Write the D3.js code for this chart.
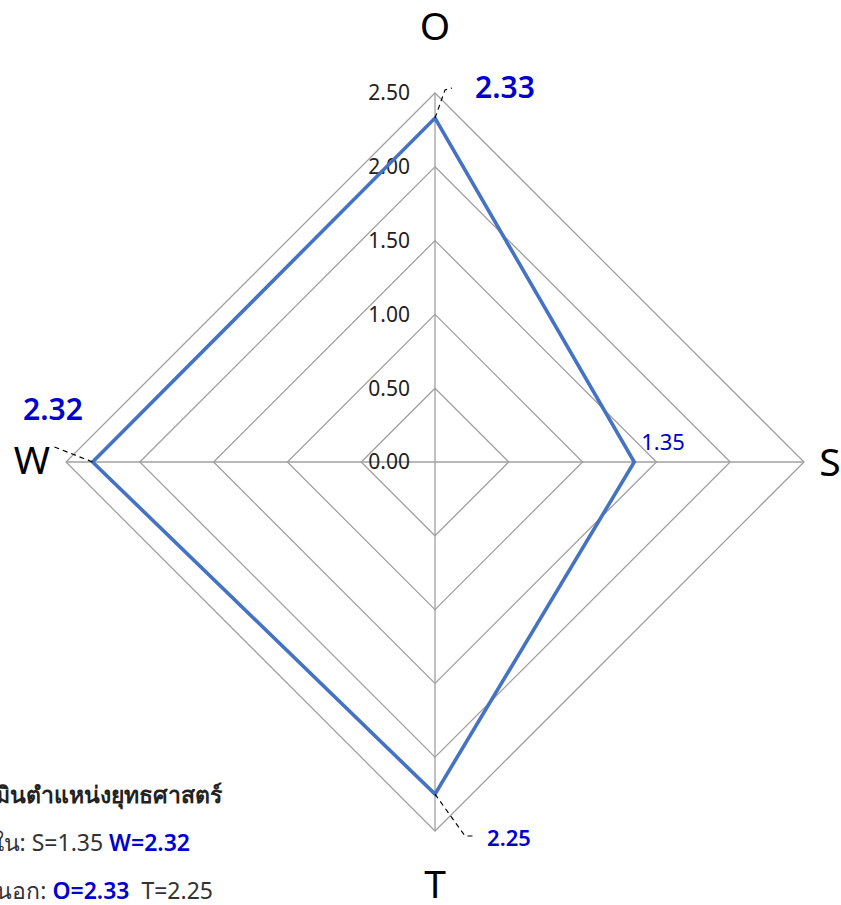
<!DOCTYPE html>
<html><head><meta charset="utf-8">
<script src="https://cdn.jsdelivr.net/npm/d3@7"></script>
<style>body{margin:0;background:#fff}svg{display:block}</style>
</head><body>
<script>
const axes = ["O","S","T","W"];
const values = [2.33, 1.35, 2.25, 2.32];
const ticks = [0, 0.5, 1.0, 1.5, 2.0, 2.5];
const tickLabels = ["0.00","0.50","1.00","1.50","2.00","2.50"];
const legendTitle = "ผลการประเมินตำแหน่งยุทธศาสตร์";
const legendInner = ["ปัจจัยภายใน: ", "S=1.35 ", "W=2.32"];
const legendOuter = ["ปัจจัยภายนอก: ", "O=2.33", "  T=2.25"];

const W = 841, H = 905, cx = 435, cy = 462;
const font = "'Noto Sans', 'DejaVu Sans', sans-serif";
const svg = d3.select("body").append("svg").attr("width", W).attr("height", H);
const r = d3.scaleLinear().domain([0, 2.5]).range([0, 369]);
const ang = d3.scalePoint().domain(axes).range([0, 2*Math.PI*3/4]);
const pt = (a, v) => [cx + r(v)*Math.sin(ang(a)), cy - r(v)*Math.cos(ang(a))];

// grid
ticks.slice(1).forEach(t => {
  svg.append("path").attr("d", d3.line()(axes.map(a => pt(a, t))) + "Z")
    .attr("fill","none").attr("stroke","#a0a0a0").attr("stroke-width",1.3);
});
axes.forEach(a => {
  const [x,y] = pt(a, 2.5);
  svg.append("line").attr("x1",cx).attr("y1",cy).attr("x2",x).attr("y2",y)
    .attr("stroke","#a0a0a0").attr("stroke-width",1.3);
});
// tick labels
ticks.forEach((t,i) => {
  svg.append("text").attr("x", cx - 25).attr("y", cy - r(t)).attr("dy","0.35em")
    .attr("text-anchor","end").attr("font-family",font).attr("font-size",21)
    .attr("fill","#222").text(tickLabels[i]);
});
// data polygon
svg.append("path").attr("d", d3.line()(axes.map((a,i) => pt(a, values[i]))) + "Z")
  .attr("fill","none").attr("stroke","#4472C4").attr("stroke-width",3.6).attr("stroke-linejoin","miter");

// axis labels
const axLab = {O:[435,26], S:[830,462], T:[435,884], W:[32,460]};
axes.forEach(a => {
  svg.append("text").attr("x", axLab[a][0]).attr("y", axLab[a][1]).attr("dy","0.36em")
    .attr("text-anchor","middle").attr("font-family",font).attr("font-size",39)
    .attr("fill","#000").text(a);
});

// value labels with leader lines
const lab = {
  O:{x:505,y:87,size:30,bold:true,lead:[[445,90],[452,88]]},
  S:{x:663,y:442,size:22,bold:false,lead:null},
  T:{x:509,y:838,size:22,bold:true,lead:[[465,836],[475,836]]},
  W:{x:53,y:409,size:30,bold:true,lead:[[52,446]]}
};
axes.forEach((a,i) => {
  const L = lab[a];
  if (L.lead) {
    const p = pt(a, values[i]);
    const pts = [p].concat(L.lead);
    svg.append("path").attr("d", d3.line()(pts)).attr("fill","none")
      .attr("stroke","#000").attr("stroke-width",1.2).attr("stroke-dasharray","5,4");
  }
  svg.append("text").attr("x",L.x).attr("y",L.y).attr("dy","0.36em")
    .attr("text-anchor","middle").attr("font-family",font).attr("font-size",L.size)
    .attr("font-weight",L.bold?"600":"normal").attr("fill","#0000CC").text(values[i].toFixed(2));
});

// legend (clipped at left edge)
svg.append("text").attr("x",222).attr("y",795).attr("dy","0.35em").attr("text-anchor","end")
  .attr("font-family",font).attr("font-size",23).attr("font-weight","bold").attr("fill","#222")
  .text(legendTitle);
const l2 = svg.append("text").attr("x",190).attr("y",843).attr("dy","0.35em").attr("text-anchor","end")
  .attr("font-family",font).attr("font-size",23).attr("fill","#333");
l2.append("tspan").text(legendInner[0]);
l2.append("tspan").text(legendInner[1]);
l2.append("tspan").attr("fill","#0000CC").attr("font-weight","600").text(legendInner[2]);
const l3 = svg.append("text").attr("x",213).attr("y",891).attr("dy","0.35em").attr("text-anchor","end")
  .attr("font-family",font).attr("font-size",23).attr("fill","#333").attr("xml:space","preserve")
  .style("white-space","pre");
l3.append("tspan").text(legendOuter[0]);
l3.append("tspan").attr("fill","#0000CC").attr("font-weight","600").text(legendOuter[1]);
l3.append("tspan").text(legendOuter[2]);
</script>
</body></html>
